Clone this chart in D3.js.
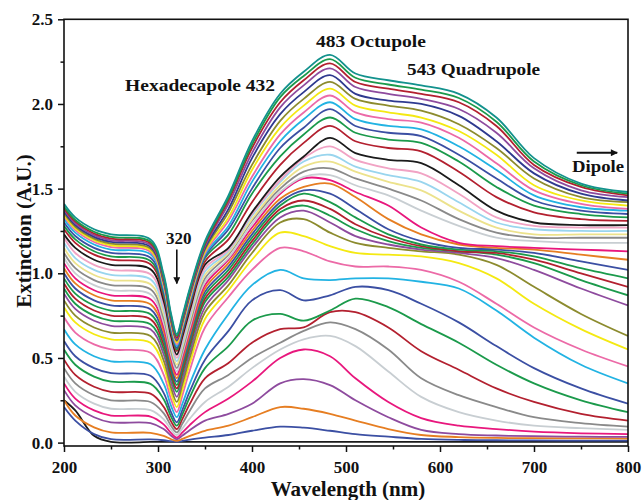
<!DOCTYPE html>
<html>
<head>
<meta charset="utf-8">
<script src="https://cdn.jsdelivr.net/npm/d3@7"></script>
<style>
  html, body { margin: 0; padding: 0; background: #fff; }
  svg { display: block; }
  text { font-family: "Liberation Serif", "Times New Roman", serif; font-weight: bold; fill: #111; }
</style>
</head>
<body>
<div id="chart"></div>
<script>
// sampling wavelengths (nm) shared by every spectrum
const wavelengths = [200, 212, 232, 250, 292, 306, 314, 320, 326, 334, 350,
  375, 400, 430, 455, 483, 510, 545, 580, 620, 660, 700, 750, 800];

// extinction spectra, first (bottom) to last (top)
const spectra = [
  [0.25, 0.19, 0.04, 0.004, 0.004, 0.004, 0.004, 0.004, 0.004, 0.004, 0.004, 0.004, 0.004, 0.004, 0.004, 0.004, 0.004, 0.004, 0.004, 0.004, 0.004, 0.004, 0.004, 0.004],
  [0.21, 0.13, 0.05, 0.02, 0.019, 0.014, 0.008, 0.005, 0.01, 0.018, 0.03, 0.045, 0.07, 0.094, 0.088, 0.07, 0.05, 0.035, 0.022, 0.016, 0.014, 0.013, 0.012, 0.012],
  [0.25, 0.16, 0.09, 0.06, 0.058, 0.04, 0.02, 0.01, 0.022, 0.04, 0.07, 0.10, 0.15, 0.21, 0.20, 0.17, 0.13, 0.08, 0.045, 0.033, 0.028, 0.026, 0.025, 0.024],
  [0.31, 0.22, 0.15, 0.12, 0.115, 0.08, 0.04, 0.02, 0.042, 0.075, 0.13, 0.17, 0.23, 0.35, 0.375, 0.34, 0.25, 0.15, 0.075, 0.05, 0.042, 0.038, 0.035, 0.034],
  [0.35, 0.26, 0.19, 0.16, 0.154, 0.108, 0.056, 0.03, 0.06, 0.105, 0.18, 0.26, 0.36, 0.50, 0.55, 0.51, 0.38, 0.24, 0.145, 0.10, 0.08, 0.065, 0.055, 0.05],
  [0.39, 0.30, 0.23, 0.20, 0.192, 0.138, 0.076, 0.045, 0.084, 0.143, 0.24, 0.33, 0.44, 0.55, 0.61, 0.63, 0.57, 0.42, 0.27, 0.18, 0.13, 0.10, 0.085, 0.075],
  [0.44, 0.35, 0.28, 0.25, 0.24, 0.174, 0.098, 0.06, 0.112, 0.19, 0.32, 0.40, 0.50, 0.59, 0.66, 0.71, 0.67, 0.55, 0.38, 0.28, 0.21, 0.15, 0.115, 0.094],
  [0.49, 0.40, 0.33, 0.30, 0.289, 0.212, 0.124, 0.08, 0.14, 0.23, 0.38, 0.47, 0.59, 0.67, 0.68, 0.77, 0.77, 0.68, 0.54, 0.43, 0.32, 0.24, 0.17, 0.13],
  [0.55, 0.46, 0.39, 0.36, 0.347, 0.256, 0.152, 0.10, 0.168, 0.27, 0.44, 0.57, 0.72, 0.76, 0.72, 0.78, 0.85, 0.80, 0.70, 0.59, 0.46, 0.35, 0.25, 0.18],
  [0.60, 0.51, 0.44, 0.41, 0.395, 0.294, 0.178, 0.12, 0.194, 0.305, 0.49, 0.66, 0.84, 0.90, 0.84, 0.87, 0.92, 0.90, 0.82, 0.71, 0.57, 0.44, 0.32, 0.23],
  [0.67, 0.58, 0.51, 0.48, 0.463, 0.348, 0.216, 0.15, 0.23, 0.35, 0.55, 0.76, 0.93, 1.02, 0.97, 0.96, 0.97, 0.97, 0.95, 0.91, 0.78, 0.62, 0.46, 0.35],
  [0.74, 0.65, 0.58, 0.55, 0.531, 0.402, 0.254, 0.18, 0.28, 0.43, 0.68, 0.86, 1.02, 1.15, 1.13, 1.07, 1.04, 1.04, 1.02, 0.95, 0.82, 0.68, 0.55, 0.45],
  [0.80, 0.71, 0.64, 0.61, 0.59, 0.45, 0.29, 0.21, 0.314, 0.47, 0.73, 0.90, 1.08, 1.24, 1.22, 1.16, 1.12, 1.11, 1.10, 1.06, 0.97, 0.82, 0.67, 0.55],
  [0.84, 0.75, 0.68, 0.65, 0.63, 0.486, 0.322, 0.24, 0.346, 0.505, 0.77, 0.93, 1.12, 1.30, 1.32, 1.24, 1.18, 1.15, 1.13, 1.11, 1.05, 0.92, 0.76, 0.63],
  [0.88, 0.79, 0.72, 0.69, 0.669, 0.522, 0.354, 0.27, 0.376, 0.535, 0.80, 0.96, 1.15, 1.33, 1.37, 1.30, 1.22, 1.17, 1.14, 1.12, 1.09, 1.02, 0.91, 0.81],
  [0.91, 0.82, 0.75, 0.72, 0.699, 0.552, 0.384, 0.30, 0.406, 0.565, 0.83, 0.98, 1.17, 1.36, 1.40, 1.34, 1.26, 1.19, 1.15, 1.13, 1.11, 1.06, 0.96, 0.87],
  [0.94, 0.85, 0.78, 0.75, 0.729, 0.578, 0.406, 0.32, 0.426, 0.585, 0.85, 1.00, 1.19, 1.38, 1.43, 1.38, 1.29, 1.21, 1.16, 1.13, 1.12, 1.08, 1.00, 0.92],
  [0.97, 0.88, 0.81, 0.78, 0.758, 0.604, 0.428, 0.34, 0.446, 0.605, 0.87, 1.02, 1.21, 1.40, 1.47, 1.42, 1.33, 1.23, 1.17, 1.14, 1.13, 1.10, 1.03, 0.97],
  [1.00, 0.91, 0.84, 0.81, 0.788, 0.63, 0.45, 0.36, 0.466, 0.625, 0.89, 1.04, 1.23, 1.42, 1.49, 1.47, 1.38, 1.26, 1.19, 1.15, 1.14, 1.12, 1.07, 1.02],
  [1.03, 0.94, 0.87, 0.84, 0.817, 0.656, 0.472, 0.38, 0.486, 0.645, 0.91, 1.06, 1.25, 1.44, 1.51, 1.53, 1.45, 1.32, 1.23, 1.17, 1.15, 1.14, 1.11, 1.08],
  [1.06, 0.97, 0.90, 0.87, 0.847, 0.682, 0.494, 0.40, 0.506, 0.665, 0.93, 1.08, 1.27, 1.47, 1.56, 1.55, 1.48, 1.40, 1.27, 1.18, 1.16, 1.15, 1.14, 1.13],
  [1.09, 1.00, 0.93, 0.90, 0.876, 0.708, 0.516, 0.42, 0.526, 0.685, 0.95, 1.09, 1.29, 1.48, 1.57, 1.58, 1.52, 1.46, 1.37, 1.28, 1.21, 1.19, 1.18, 1.18],
  [1.12, 1.03, 0.96, 0.93, 0.906, 0.734, 0.538, 0.44, 0.546, 0.705, 0.97, 1.11, 1.31, 1.50, 1.60, 1.62, 1.56, 1.50, 1.43, 1.32, 1.24, 1.21, 1.21, 1.21],
  [1.15, 1.06, 0.99, 0.96, 0.935, 0.76, 0.56, 0.46, 0.566, 0.725, 0.99, 1.12, 1.32, 1.52, 1.63, 1.66, 1.60, 1.54, 1.49, 1.37, 1.27, 1.23, 1.23, 1.23],
  [1.18, 1.09, 1.02, 0.99, 0.965, 0.786, 0.582, 0.48, 0.586, 0.745, 1.01, 1.13, 1.34, 1.54, 1.66, 1.70, 1.63, 1.58, 1.54, 1.42, 1.30, 1.26, 1.25, 1.25],
  [1.21, 1.12, 1.05, 1.02, 0.994, 0.812, 0.604, 0.50, 0.606, 0.765, 1.03, 1.14, 1.35, 1.55, 1.68, 1.75, 1.67, 1.62, 1.59, 1.47, 1.33, 1.28, 1.27, 1.27],
  [1.23, 1.15, 1.08, 1.05, 1.024, 0.838, 0.626, 0.52, 0.626, 0.785, 1.05, 1.15, 1.36, 1.57, 1.69, 1.80, 1.71, 1.67, 1.65, 1.52, 1.37, 1.30, 1.285, 1.285],
  [1.26, 1.18, 1.11, 1.08, 1.053, 0.864, 0.648, 0.54, 0.646, 0.805, 1.07, 1.20, 1.42, 1.64, 1.77, 1.87, 1.78, 1.74, 1.72, 1.60, 1.45, 1.36, 1.32, 1.31],
  [1.28, 1.20, 1.13, 1.10, 1.073, 0.88, 0.66, 0.55, 0.658, 0.82, 1.09, 1.23, 1.47, 1.69, 1.82, 1.92, 1.83, 1.79, 1.77, 1.66, 1.51, 1.40, 1.35, 1.33],
  [1.30, 1.22, 1.15, 1.12, 1.092, 0.896, 0.672, 0.56, 0.668, 0.83, 1.10, 1.26, 1.50, 1.74, 1.86, 1.97, 1.87, 1.83, 1.81, 1.70, 1.56, 1.43, 1.37, 1.35],
  [1.32, 1.24, 1.17, 1.14, 1.112, 0.912, 0.684, 0.57, 0.678, 0.84, 1.11, 1.28, 1.54, 1.78, 1.91, 2.01, 1.91, 1.87, 1.85, 1.75, 1.61, 1.46, 1.39, 1.37],
  [1.335, 1.255, 1.185, 1.155, 1.126, 0.925, 0.695, 0.58, 0.688, 0.85, 1.12, 1.31, 1.57, 1.82, 1.95, 2.05, 1.95, 1.91, 1.89, 1.80, 1.65, 1.49, 1.41, 1.38],
  [1.345, 1.265, 1.195, 1.165, 1.136, 0.935, 0.705, 0.59, 0.698, 0.86, 1.13, 1.33, 1.61, 1.86, 1.99, 2.09, 1.99, 1.95, 1.92, 1.84, 1.70, 1.52, 1.43, 1.40],
  [1.355, 1.275, 1.205, 1.175, 1.146, 0.945, 0.715, 0.60, 0.708, 0.87, 1.14, 1.36, 1.64, 1.90, 2.03, 2.13, 2.03, 1.99, 1.96, 1.88, 1.74, 1.56, 1.45, 1.42],
  [1.365, 1.285, 1.215, 1.185, 1.156, 0.953, 0.721, 0.605, 0.714, 0.878, 1.15, 1.38, 1.68, 1.94, 2.07, 2.17, 2.06, 2.02, 2.00, 1.93, 1.78, 1.59, 1.47, 1.43],
  [1.375, 1.295, 1.225, 1.195, 1.166, 0.961, 0.727, 0.61, 0.72, 0.885, 1.16, 1.41, 1.71, 1.98, 2.11, 2.21, 2.10, 2.06, 2.03, 1.97, 1.83, 1.62, 1.49, 1.45],
  [1.385, 1.305, 1.235, 1.205, 1.176, 0.971, 0.737, 0.62, 0.73, 0.895, 1.17, 1.43, 1.74, 2.01, 2.14, 2.24, 2.13, 2.09, 2.06, 2.01, 1.87, 1.64, 1.51, 1.46],
  [1.395, 1.315, 1.245, 1.215, 1.186, 0.981, 0.747, 0.63, 0.74, 0.905, 1.18, 1.445, 1.76, 2.04, 2.165, 2.265, 2.155, 2.115, 2.085, 2.035, 1.895, 1.66, 1.52, 1.47],
  [1.41, 1.33, 1.26, 1.23, 1.20, 0.994, 0.758, 0.64, 0.75, 0.915, 1.19, 1.46, 1.78, 2.06, 2.19, 2.29, 2.18, 2.14, 2.11, 2.06, 1.92, 1.68, 1.53, 1.48]
];

// axis ticks
const xTicks = [200, 300, 400, 500, 600, 700, 800];
const xMinorTicks = [250, 350, 450, 550, 650, 750];
const yTicks = [0, 0.5, 1.0, 1.5, 2.0, 2.5];
const yMinorTicks = [0.25, 0.75, 1.25, 1.75, 2.25];

// annotation texts
const peakLabels = ['Hexadecapole 432', '483 Octupole', '543 Quadrupole'];
const dipLabel = '320';
const dipoleLabel = 'Dipole';
const xTitle = 'Wavelength (nm)';
const yTitle = 'Extinction (A.U.)';

// line colours, one per spectrum
const C = {
  black: '#1b1b1b', blue: '#3b4fa3', orange: '#e67e22', purple: '#8e4b9e', magenta: '#e8177d',
  silver: '#c8ced2', gray: '#8a8a8a', darkred: '#b3202f', green: '#1b9a4b', cyan: '#22b3e3',
  pink: '#ec6aa7', yellow: '#f4e912', olive: '#8c8b2e', lyellow: '#ece28c', lblue: '#99d5ee',
  lpink: '#f1a3c4', navy: '#2e3a8f', teal: '#13928d'
};
const curveColors = [C.black, C.blue, C.orange, C.purple, C.magenta, C.silver, C.gray, C.darkred,
  C.green, C.blue, C.cyan, C.pink, C.yellow, C.olive, C.purple, C.green, C.darkred, C.green,
  C.blue, C.orange, C.magenta, C.silver, C.gray, C.lyellow, C.lblue, C.lpink, C.black,
  C.darkred, C.green, C.blue, C.cyan, C.pink, C.yellow, C.olive, C.navy, C.purple,
  C.darkred, C.green, C.teal];

const width = 643, height = 500;
const plot = {left: 64, right: 628, top: 19.3, bottom: 446};

const x = d3.scaleLinear().domain([200, 800]).range([plot.left, plot.right]);
const y = d3.scaleLinear().domain([-0.02, 2.5]).range([plot.bottom, plot.top]);

const svg = d3.select('#chart').append('svg')
  .attr('width', width)
  .attr('height', height);

const defs = svg.append('defs');
defs.append('clipPath').attr('id', 'plot-clip')
  .append('rect')
  .attr('x', plot.left).attr('y', plot.top)
  .attr('width', plot.right - plot.left).attr('height', plot.bottom - plot.top);
defs.append('marker').attr('id', 'head')
  .attr('viewBox', '0 0 10 10').attr('refX', 9).attr('refY', 5)
  .attr('markerWidth', 9).attr('markerHeight', 7).attr('markerUnits', 'userSpaceOnUse')
  .attr('orient', 'auto')
  .append('path').attr('d', 'M0,0L10,5L0,10Z').attr('fill', '#111');

// draw spectra
const line = d3.line()
  .x((d, i) => x(wavelengths[i]))
  .y(d => y(d))
  .curve(d3.curveCatmullRom.alpha(0.5));

svg.append('g')
  .attr('clip-path', 'url(#plot-clip)')
  .selectAll('path').data(spectra).enter()
  .append('path')
  .attr('d', line)
  .attr('fill', 'none')
  .attr('stroke', (d, i) => curveColors[i])
  .attr('stroke-width', 1.8)
  .attr('stroke-linejoin', 'round');

// axes
const tickFont = g => g.selectAll('text')
  .style('font-size', '17px')
  .style('font-family', '"Liberation Serif", "Times New Roman", serif')
  .style('font-weight', 'bold')
  .attr('fill', '#111');

svg.append('g')
  .attr('transform', `translate(0,${plot.bottom})`)
  .call(d3.axisBottom(x).tickValues(xTicks).tickFormat(d3.format('d')).tickSize(6).tickPadding(9))
  .call(g => g.select('.domain').remove())
  .call(tickFont);
svg.append('g')
  .attr('transform', `translate(0,${plot.bottom})`)
  .call(d3.axisBottom(x).tickValues(xMinorTicks).tickFormat('').tickSize(3.5))
  .call(g => g.select('.domain').remove());

svg.append('g')
  .attr('transform', `translate(${plot.left},0)`)
  .call(d3.axisLeft(y).tickValues(yTicks).tickFormat(d3.format('.1f')).tickSize(6).tickPadding(5))
  .call(g => g.select('.domain').remove())
  .call(tickFont);
svg.append('g')
  .attr('transform', `translate(${plot.left},0)`)
  .call(d3.axisLeft(y).tickValues(yMinorTicks).tickFormat('').tickSize(3.5))
  .call(g => g.select('.domain').remove());

svg.selectAll('.tick line').attr('stroke', '#111').attr('stroke-width', 1.5);

// frame
svg.append('rect')
  .attr('x', plot.left).attr('y', plot.top)
  .attr('width', plot.right - plot.left).attr('height', plot.bottom - plot.top)
  .attr('fill', 'none').attr('stroke', '#111').attr('stroke-width', 1.6);

// axis titles
svg.append('text')
  .attr('x', (plot.left + plot.right) / 2 + 2).attr('y', 496)
  .attr('text-anchor', 'middle')
  .style('font-size', '21px')
  .text(xTitle);
svg.append('text')
  .attr('transform', 'translate(31,231) rotate(-90)')
  .attr('text-anchor', 'middle')
  .style('font-size', '21px')
  .text(yTitle);

// mode annotations
svg.append('text').attr('x', x(265)).attr('y', y(2.076))
  .style('font-size', '17px').attr('textLength', 150).attr('lengthAdjust', 'spacingAndGlyphs')
  .attr('xml:space', 'preserve')
  .text(peakLabels[0]);
svg.append('text').attr('x', x(468)).attr('y', y(2.339))
  .style('font-size', '17px').attr('textLength', 110).attr('lengthAdjust', 'spacingAndGlyphs')
  .text(peakLabels[1]);
svg.append('text').attr('x', x(565)).attr('y', y(2.171))
  .style('font-size', '17px').attr('textLength', 133).attr('lengthAdjust', 'spacingAndGlyphs')
  .text(peakLabels[2]);

// dip at 320 nm
svg.append('text').attr('x', x(322)).attr('y', y(1.173))
  .attr('text-anchor', 'middle')
  .style('font-size', '17px')
  .text(dipLabel);
svg.append('line')
  .attr('x1', x(320)).attr('x2', x(320))
  .attr('y1', y(1.14)).attr('y2', y(0.94))
  .attr('stroke', '#111').attr('stroke-width', 1.6)
  .attr('marker-end', 'url(#head)');

// dipole arrow
svg.append('line')
  .attr('x1', x(745.5)).attr('x2', x(788.5))
  .attr('y1', y(1.712)).attr('y2', y(1.712))
  .attr('stroke', '#111').attr('stroke-width', 1.8)
  .attr('marker-end', 'url(#head)');
svg.append('text').attr('x', x(740.5)).attr('y', y(1.598))
  .style('font-size', '17px').attr('textLength', 52).attr('lengthAdjust', 'spacingAndGlyphs')
  .text(dipoleLabel);
</script>
</body>
</html>
